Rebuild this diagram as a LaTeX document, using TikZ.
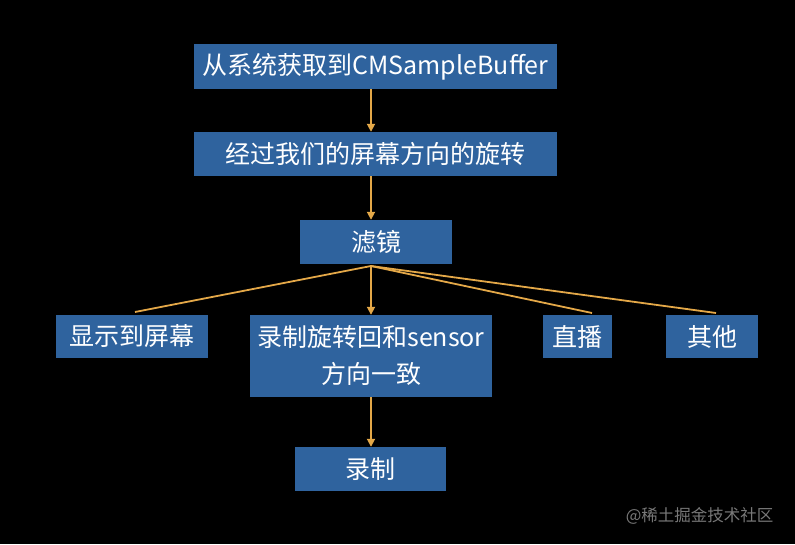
\documentclass[tikz,border=0pt]{standalone}
\usepackage{fontspec}
\setmainfont{Noto Sans CJK SC}
\usetikzlibrary{arrows.meta}
\definecolor{boxblue}{RGB}{47,99,158}
\definecolor{lineorange}{RGB}{228,168,72}
\definecolor{wmgray}{RGB}{120,120,120}
\begin{document}
\begin{tikzpicture}[x=1pt,y=-1pt,
  box/.style={fill=boxblue,draw=none,text=white,inner sep=0pt,align=center,
    font=\fontsize{25}{37}\selectfont},
  conn/.style={draw=lineorange,line width=1.8pt},
  arr/.style={conn,-{Triangle[length=8pt,width=8pt]}}]
\fill[black] (0,0) rectangle (795,544);
\useasboundingbox (0,0) rectangle (795,544);
\node[box,minimum width=363pt,minimum height=45pt] (b1) at (375.5,66.5) {从系统获取到CMSampleBuffer};
\node[box,minimum width=363pt,minimum height=44pt] (b2) at (375.5,154) {经过我们的屏幕方向的旋转};
\node[box,minimum width=152pt,minimum height=44pt] (b3) at (376,242) {滤镜};
\node[box,minimum width=152pt,minimum height=43pt] (d1) at (132,336.5) {显示到屏幕};
\node[box,minimum width=242pt,minimum height=82pt] (d2) at (371,356) {录制旋转回和sensor\\方向一致};
\node[box,minimum width=69pt,minimum height=43pt] (d3) at (577.5,336.5) {直播};
\node[box,minimum width=92pt,minimum height=43pt] (d4) at (712,336.5) {其他};
\node[box,minimum width=151pt,minimum height=44pt] (r) at (370.5,469) {录制};
\node[text=wmgray,font=\fontsize{16.5}{20}\selectfont,anchor=east] (wm) at (777,516) {@稀土掘金技术社区};
\coordinate (hub) at (371,266);
\coordinate (t1) at (135,312);
\coordinate (t3) at (592,313);
\coordinate (t4) at (716,313);
\draw[arr] (b1.south -| hub) -- (b2.north -| hub);
\draw[arr] (b2.south -| hub) -- (b3.north -| hub);
\draw[conn] (hub) -- (t1);
\draw[conn] (hub) -- (t3);
\draw[conn] (hub) -- (t4);
\draw[arr] (hub) -- (d2.north -| hub);
\draw[arr] (d2.south -| hub) -- (r.north -| hub);
\end{tikzpicture}
\end{document}
